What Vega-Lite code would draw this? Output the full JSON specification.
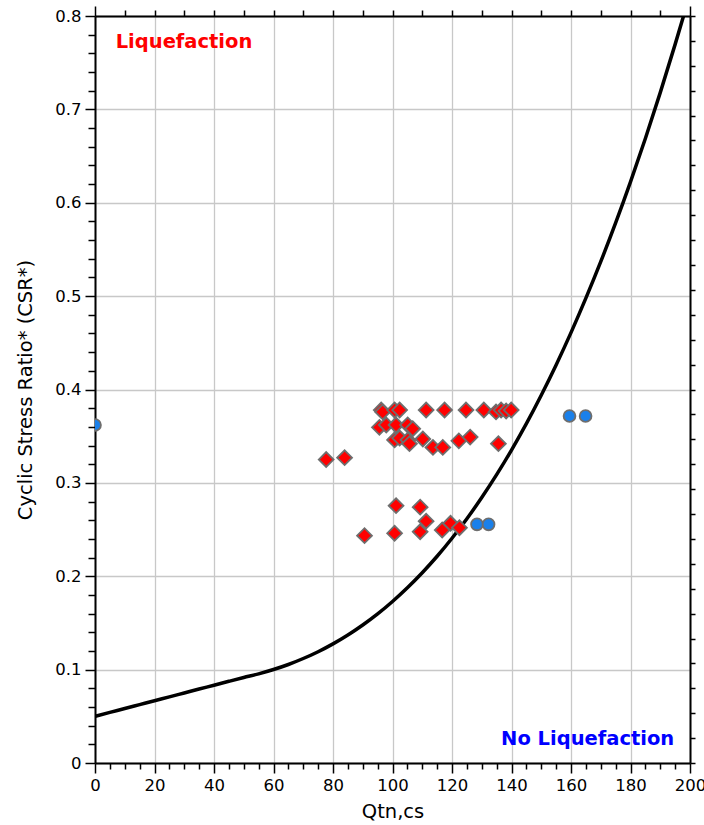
{
  "$schema": "https://vega.github.io/schema/vega-lite/v6.json",
  "width": 595,
  "height": 747,
  "autosize": "none",
  "padding": {"left": 95, "top": 16, "right": 14, "bottom": 62},
  "background": "white",
  "config": {
    "view": {"stroke": null},
    "font": "DejaVu Sans",
    "axis": {
      "domainColor": "black",
      "domainWidth": 2,
      "tickColor": "black",
      "tickWidth": 1.5,
      "labelColor": "black",
      "titleColor": "black",
      "labelFont": "DejaVu Sans",
      "titleFont": "DejaVu Sans",
      "labelFontSize": 16.5,
      "titleFontSize": 19.5,
      "titleFontWeight": "normal",
      "gridColor": "#c8c8c8",
      "gridWidth": 1.3
    }
  },
  "datasets": {
    "curve": [
      {"q": 0, "csr": 0.05}, {"q": 5, "csr": 0.0542}, {"q": 10, "csr": 0.0583}, {"q": 15, "csr": 0.0625},
      {"q": 20, "csr": 0.0667}, {"q": 25, "csr": 0.0708}, {"q": 30, "csr": 0.075}, {"q": 35, "csr": 0.0792},
      {"q": 40, "csr": 0.0833}, {"q": 45, "csr": 0.0875}, {"q": 50, "csr": 0.0916}, {"q": 55, "csr": 0.0955},
      {"q": 60, "csr": 0.1001}, {"q": 65, "csr": 0.1055}, {"q": 70, "csr": 0.1119}, {"q": 75, "csr": 0.1192},
      {"q": 80, "csr": 0.1276}, {"q": 85, "csr": 0.1371}, {"q": 90, "csr": 0.1478}, {"q": 95, "csr": 0.1597},
      {"q": 100, "csr": 0.173}, {"q": 105, "csr": 0.1877}, {"q": 110, "csr": 0.2038}, {"q": 115, "csr": 0.2214},
      {"q": 120, "csr": 0.2407}, {"q": 125, "csr": 0.2616}, {"q": 130, "csr": 0.2843}, {"q": 135, "csr": 0.3088},
      {"q": 140, "csr": 0.3352}, {"q": 145, "csr": 0.3635}, {"q": 150, "csr": 0.3939}, {"q": 155, "csr": 0.4263},
      {"q": 160, "csr": 0.4609}, {"q": 165, "csr": 0.4978}, {"q": 170, "csr": 0.5369}, {"q": 175, "csr": 0.5784},
      {"q": 180, "csr": 0.6224}, {"q": 185, "csr": 0.6688}, {"q": 190, "csr": 0.7179}, {"q": 195, "csr": 0.7696},
      {"q": 198, "csr": 0.8018}
    ],
    "points": [
      {"q": 96.2, "csr": 0.378, "type": "Liquefaction"},
      {"q": 96.7, "csr": 0.376, "type": "Liquefaction"},
      {"q": 100.7, "csr": 0.378, "type": "Liquefaction"},
      {"q": 102.4, "csr": 0.378, "type": "Liquefaction"},
      {"q": 111.3, "csr": 0.378, "type": "Liquefaction"},
      {"q": 117.5, "csr": 0.378, "type": "Liquefaction"},
      {"q": 124.7, "csr": 0.378, "type": "Liquefaction"},
      {"q": 130.7, "csr": 0.378, "type": "Liquefaction"},
      {"q": 134.8, "csr": 0.376, "type": "Liquefaction"},
      {"q": 136.5, "csr": 0.378, "type": "Liquefaction"},
      {"q": 138.2, "csr": 0.377, "type": "Liquefaction"},
      {"q": 139.9, "csr": 0.378, "type": "Liquefaction"},
      {"q": 95.6, "csr": 0.3595, "type": "Liquefaction"},
      {"q": 97.9, "csr": 0.362, "type": "Liquefaction"},
      {"q": 101.2, "csr": 0.362, "type": "Liquefaction"},
      {"q": 105.1, "csr": 0.362, "type": "Liquefaction"},
      {"q": 106.8, "csr": 0.358, "type": "Liquefaction"},
      {"q": 100.7, "csr": 0.346, "type": "Liquefaction"},
      {"q": 102.4, "csr": 0.348, "type": "Liquefaction"},
      {"q": 105.2, "csr": 0.346, "type": "Liquefaction"},
      {"q": 105.7, "csr": 0.342, "type": "Liquefaction"},
      {"q": 110.2, "csr": 0.347, "type": "Liquefaction"},
      {"q": 113.6, "csr": 0.338, "type": "Liquefaction"},
      {"q": 116.9, "csr": 0.338, "type": "Liquefaction"},
      {"q": 122.3, "csr": 0.345, "type": "Liquefaction"},
      {"q": 126.1, "csr": 0.349, "type": "Liquefaction"},
      {"q": 135.6, "csr": 0.342, "type": "Liquefaction"},
      {"q": 77.7, "csr": 0.325, "type": "Liquefaction"},
      {"q": 83.9, "csr": 0.327, "type": "Liquefaction"},
      {"q": 101.2, "csr": 0.2756, "type": "Liquefaction"},
      {"q": 109.3, "csr": 0.274, "type": "Liquefaction"},
      {"q": 111.3, "csr": 0.259, "type": "Liquefaction"},
      {"q": 90.6, "csr": 0.2435, "type": "Liquefaction"},
      {"q": 100.7, "csr": 0.246, "type": "Liquefaction"},
      {"q": 109.3, "csr": 0.2477, "type": "Liquefaction"},
      {"q": 116.7, "csr": 0.2495, "type": "Liquefaction"},
      {"q": 119.5, "csr": 0.2567, "type": "Liquefaction"},
      {"q": 122.5, "csr": 0.252, "type": "Liquefaction"},
      {"q": 128.4, "csr": 0.2556, "type": "No Liquefaction"},
      {"q": 132.3, "csr": 0.2556, "type": "No Liquefaction"},
      {"q": 159.5, "csr": 0.3716, "type": "No Liquefaction"},
      {"q": 164.9, "csr": 0.3716, "type": "No Liquefaction"},
      {"q": 0, "csr": 0.362, "type": "No Liquefaction"}
    ],
    "labels": [
      {"q": 6.95, "csr": 0.766, "text": "Liquefaction", "color": "#ff0000"},
      {"q": 136.5, "csr": 0.0193, "text": "No Liquefaction", "color": "#0000ff"}
    ]
  },
  "resolve": {"axis": {"x": "independent", "y": "independent"}},
  "layer": [
    {
      "data": {"name": "curve"},
      "mark": {"type": "line", "color": "black", "strokeWidth": 3.5, "interpolate": "monotone", "clip": true},
      "encoding": {
        "x": {
          "field": "q", "type": "quantitative",
          "scale": {"domain": [0, 200], "nice": false, "zero": false},
          "axis": {
            "orient": "bottom",
            "title": "Qtn,cs",
            "values": [0,5,10,15,20,25,30,35,40,45,50,55,60,65,70,75,80,85,90,95,100,105,110,115,120,125,130,135,140,145,150,155,160,165,170,175,180,185,190,195,200],
            "labelExpr": "datum.value % 20 === 0 ? format(datum.value, 'd') : ''",
            "tickSize": {"condition": {"test": "datum.value % 20 === 0", "value": 10}, "value": 6},
            "grid": true,
            "gridOpacity": {"condition": {"test": "datum.value % 20 === 0", "value": 1}, "value": 0},
            "labelPadding": 4,
            "labelFlush": false,
            "labelOverlap": false,
            "titleBaseline": "alphabetic",
            "titleY": 54
          }
        },
        "y": {
          "field": "csr", "type": "quantitative",
          "scale": {"domain": [0, 0.8], "nice": false, "zero": false},
          "axis": {
            "orient": "left",
            "title": "Cyclic Stress Ratio* (CSR*)",
            "values": [0,0.02,0.04,0.06,0.08,0.1,0.12,0.14,0.16,0.18,0.2,0.22,0.24,0.26,0.28,0.3,0.32,0.34,0.36,0.38,0.4,0.42,0.44,0.46,0.48,0.5,0.52,0.54,0.56,0.58,0.6,0.62,0.64,0.66,0.68,0.7,0.72,0.74,0.76,0.78,0.8],
            "labelExpr": "abs(datum.value*10 - round(datum.value*10)) < 0.001 ? (datum.value == 0 ? '0' : format(datum.value, '.1f')) : ''",
            "tickSize": {"condition": {"test": "abs(datum.value*10 - round(datum.value*10)) < 0.001", "value": 10}, "value": 7},
            "grid": true,
            "gridOpacity": {"condition": {"test": "abs(datum.value*10 - round(datum.value*10)) < 0.001", "value": 1}, "value": 0},
            "labelPadding": 4,
            "labelFlush": false,
            "labelOverlap": false,
            "titleBaseline": "middle",
            "titleX": -70
          }
        }
      }
    },
    {
      "data": {"name": "points"},
      "mark": {"type": "point", "filled": true, "strokeWidth": 1.8, "stroke": "#6e6e6e", "opacity": 1, "clip": true},
      "encoding": {
        "x": {
          "field": "q", "type": "quantitative",
          "axis": {
            "orient": "top", "title": null, "labels": false, "grid": false,
            "values": [0,10,20,30,40,50,60,70,80,90,100,110,120,130,140,150,160,170,180,190,200],
            "tickSize": {"condition": {"test": "datum.value === 0 || datum.value === 200", "value": 10}, "value": 6}
          }
        },
        "y": {
          "field": "csr", "type": "quantitative",
          "axis": {
            "orient": "right", "title": null, "labels": false, "grid": false,
            "values": [0,0.026667,0.053333,0.08,0.106667,0.133333,0.16,0.186667,0.213333,0.24,0.266667,0.293333,0.32,0.346667,0.373333,0.4,0.426667,0.453333,0.48,0.506667,0.533333,0.56,0.586667,0.613333,0.64,0.666667,0.693333,0.72,0.746667,0.773333,0.8],
            "tickSize": 5
          }
        },
        "shape": {
          "field": "type", "type": "nominal",
          "scale": {"domain": ["Liquefaction", "No Liquefaction"], "range": ["diamond", "circle"]},
          "legend": null
        },
        "color": {
          "field": "type", "type": "nominal",
          "scale": {"domain": ["Liquefaction", "No Liquefaction"], "range": ["#ff0000", "#1a80ea"]},
          "legend": null
        },
        "size": {
          "field": "type", "type": "nominal",
          "scale": {"domain": ["Liquefaction", "No Liquefaction"], "range": [220, 140]},
          "legend": null
        }
      }
    },
    {
      "data": {"name": "labels"},
      "mark": {"type": "text", "align": "left", "baseline": "alphabetic", "fontWeight": "bold", "fontSize": 19.5, "font": "DejaVu Sans"},
      "encoding": {
        "x": {"field": "q", "type": "quantitative", "axis": null},
        "y": {"field": "csr", "type": "quantitative", "axis": null},
        "text": {"field": "text"},
        "color": {"field": "color", "type": "nominal", "scale": null}
      }
    }
  ]
}
